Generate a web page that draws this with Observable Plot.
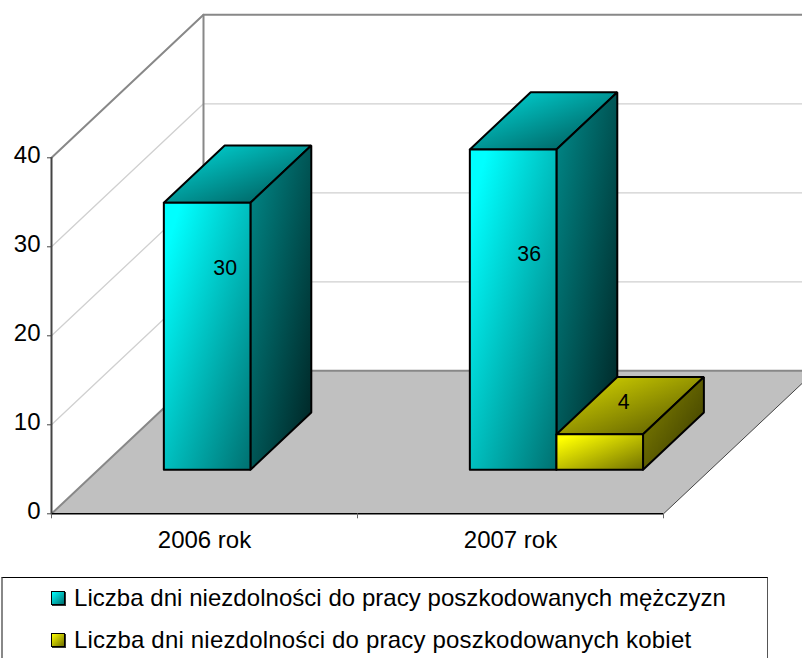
<!DOCTYPE html>
<html lang="pl">
<head>
<meta charset="utf-8">
<script src="https://cdn.jsdelivr.net/npm/d3@7"></script>
<script src="https://cdn.jsdelivr.net/npm/@observablehq/plot@0.6"></script>
<style>
  html, body { margin: 0; padding: 0; background: #fff; overflow: hidden; }
  #chart svg { display: block; }
  #legend {
    position: absolute; left: 1px; top: 577px; width: 767px; height: 81px;
    border-top: 1px solid #000; border-left: 2px solid #888; border-right: 1px solid #555;
    font-family: "Liberation Sans", Arial, sans-serif; font-size: 24px; color: #000;
    box-sizing: border-box; overflow: hidden;
  }
  .row { position: absolute; left: 71px; white-space: nowrap; line-height: 24px; }
  .swatch { position: absolute; left: 48px; width: 12px; height: 12px; border: 1px solid #000; box-shadow: 1px 1px 0 #333; }
</style>
</head>
<body>
<div id="chart"></div>
<div id="legend"></div>
<script>
// Data
const categories = ["2006 rok", "2007 rok"];
const seriesNames = [
  "Liczba dni niezdolności do pracy poszkodowanych mężczyzn",
  "Liczba dni niezdolności do pracy poszkodowanych kobiet"
];
const menValues = [30, 36];
const womenValues = [null, 4];
const yTicks = [0, 10, 20, 30, 40];

// Oblique 3D layout, in data units
const depthX = 152 / 306;   // category widths per full depth
const depthY = 143 / 8.9;   // value units per full depth
const barGap = 0.2143, barWidth = 0.283;
const barZ0 = 0.3077, barZ1 = 0.708;
const project = ([c, v, z]) => ({x: c + z * depthX, y: v + z * depthY});
const poly = (pts, o) => Plot.line(pts.concat([pts[0]]).map(project), {x: "x", y: "y", ...o});
const seg = (pts, o) => Plot.line(pts.map(project), {x: "x", y: "y", ...o});

function bar(cat, s, v, prefix) {
  const a = cat + barGap + s * barWidth, b = a + barWidth;
  const edge = {stroke: "#000", strokeWidth: 2, strokeLinejoin: "miter"};
  return [
    poly([[a, v, barZ0], [b, v, barZ0], [b, v, barZ1], [a, v, barZ1]], {fill: `url(#${prefix}Top)`, ...edge}),
    poly([[b, 0, barZ0], [b, 0, barZ1], [b, v, barZ1], [b, v, barZ0]], {fill: `url(#${prefix}Side)`, ...edge}),
    poly([[a, 0, barZ0], [b, 0, barZ0], [b, v, barZ0], [a, v, barZ0]], {fill: `url(#${prefix}Front)`, ...edge})
  ];
}
function barLabel(cat, s, v, dx, dy) {
  const a = cat + barGap + s * barWidth + barWidth / 2;
  const p = project([a, v / 2, barZ0]);
  return Plot.text([v], {x: () => p.x, y: () => p.y, text: d => String(d), dx, dy,
    fontSize: 21.3, fill: "#000", fontFamily: "Liberation Sans, Arial, sans-serif"});
}

const grid = yTicks.slice(1, -1).map(v =>
  seg([[0, v, 0], [0, v, 1], [2.3, v, 1]], {stroke: "#d0d0d0", strokeWidth: 1.3}));

const plot = Plot.plot({
  width: 802, height: 577,
  marginLeft: 51, marginRight: 139, marginTop: 0, marginBottom: 63.7,
  style: {fontFamily: "Liberation Sans, Arial, sans-serif", background: "#fff", color: "#000"},
  x: {type: "linear", domain: [0, 2], range: [51, 663]},
  y: {domain: [0, 40], range: [513.3, 157.3]},
  marks: [
    ...grid,
    // walls
    seg([[0, 40, 0], [0, 40, 1], [2.3, 40, 1]], {stroke: "#888", strokeWidth: 2}),
    seg([[0, 0, 1], [0, 40, 1]], {stroke: "#888", strokeWidth: 2}),
    // floor
    poly([[0, 0, 0], [2, 0, 0], [2, 0, 1], [0, 0, 1]], {fill: "#c0c0c0", stroke: "none"}),
    seg([[0, 0, 0], [0, 0, 1], [2.3, 0, 1]], {stroke: "#888", strokeWidth: 2}),
    seg([[2, 0, 0], [2, 0, 1]], {stroke: "#444", strokeWidth: 1}),
    // axes
    Plot.ruleX([0], {y1: 0, y2: 40, stroke: "#444", strokeWidth: 2}),
    Plot.ruleY([0], {x1: 0, x2: 2, stroke: "#000", strokeWidth: 1.5}),
    Plot.axisY({ticks: yTicks, tickSize: 4, tickFormat: () => "", label: null, stroke: "#444"}),
    Plot.axisY({ticks: yTicks, tickSize: 0, tickPadding: 11, dy: -2, fontSize: 24, label: null, fill: "#000"}),
    Plot.axisX({ticks: [0, 1, 2], tickSize: 5, tickFormat: () => "", label: null, stroke: "#666"}),
    Plot.axisX({ticks: [0.5, 1.5], tickSize: 0, tickPadding: 17, fontSize: 24, label: null,
      tickFormat: d => categories[Math.floor(d)]}),
    // bars
    ...menValues.flatMap((v, i) => bar(i, 0, v, "c")),
    ...womenValues.flatMap((v, i) => v == null ? [] : bar(i, 1, v, "y")),
    // value labels
    barLabel(0, 0, menValues[0], 18, -68),
    barLabel(1, 0, menValues[1], 16, -55),
    barLabel(1, 1, womenValues[1], 24, -50)
  ]
});

const grad = (id, c0, c1) => `<linearGradient id="${id}" x1="0" y1="0" x2="1" y2="1"><stop offset="0.1" stop-color="${c0}"/><stop offset="1" stop-color="${c1}"/></linearGradient>`;
const defs = document.createElementNS("http://www.w3.org/2000/svg", "defs");
defs.innerHTML = [
  grad("cFront", "#00ffff", "#007070"), grad("cTop", "#00d0d0", "#005050"), grad("cSide", "#008080", "#002020"),
  grad("yFront", "#ffff00", "#707000"), grad("yTop", "#d0d000", "#505000"), grad("ySide", "#808000", "#333300")
].join("");
plot.insertBefore(defs, plot.firstChild);
document.getElementById("chart").appendChild(plot);

// Legend
const legend = document.getElementById("legend");
const rowColors = [["#00ffff", "#007070"], ["#ffff00", "#707000"]];
const rowSpacing = [0.04, 0.19];
seriesNames.forEach((name, i) => {
  const top = 8 + i * 41.5;
  const sw = document.createElement("div");
  sw.className = "swatch";
  sw.style.top = (top + 5) + "px";
  sw.style.background = `linear-gradient(135deg, ${rowColors[i][0]}, ${rowColors[i][1]})`;
  legend.appendChild(sw);
  const t = document.createElement("div");
  t.className = "row";
  t.style.top = top + "px";
  t.style.letterSpacing = rowSpacing[i] + "px";
  t.textContent = name;
  legend.appendChild(t);
});
</script>
</body>
</html>
